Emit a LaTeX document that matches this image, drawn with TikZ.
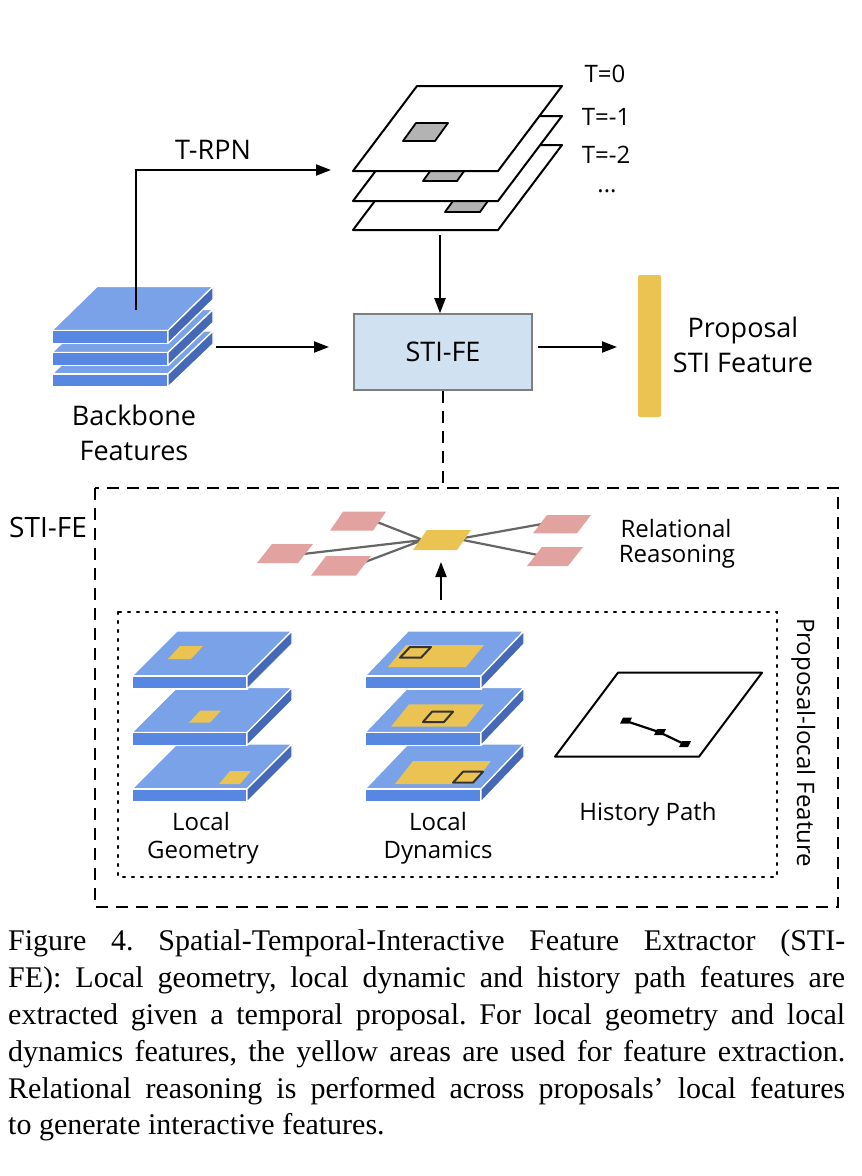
\documentclass[tikz,border=0pt]{standalone}
\usepackage{fontspec}
\setmainfont{Liberation Serif}
\newfontfamily\diagfont{Open Sans}
\usetikzlibrary{arrows.meta}
\definecolor{topc}{HTML}{7AA2E8}
\definecolor{frontc}{HTML}{5787E0}
\definecolor{sidec}{HTML}{4569B6}
\definecolor{ylw}{HTML}{EAC353}
\definecolor{pinkc}{HTML}{E2A2A0}
\definecolor{boxfill}{HTML}{D0E1F2}
\definecolor{boxdraw}{HTML}{7F7F7F}
\definecolor{grayp}{HTML}{B3B3B3}
\definecolor{linkc}{HTML}{666666}
\newcommand\pgram[6][]{\path[#1] (#2,#3) -- ++(#4,0) -- ++(#5,-#6) -- ++(-#4,0) -- cycle;}
\newcommand\slab[6]{%
  \path[draw=white,line width=1.3pt,fill=topc,line join=round] (#1,#2) -- ++(#3,0) -- ++(#5,-#6) -- ++(-#3,0) -- cycle;
  \path[draw=white,line width=1.3pt,fill=frontc] (#1,#2) rectangle ++(#3,#4);
  \path[draw=white,line width=1.3pt,fill=sidec,line join=round] (#1+#3,#2) -- ++(#5,-#6) -- ++(0,#4) -- ++(-#5,#6) -- cycle;
}
\begin{document}
\begin{tikzpicture}[x=1pt,y=-1pt,
  arr/.style={line width=2pt,-{Triangle[length=15pt,width=11pt]}},
  lbl/.style={font=\diagfont\fontsize{27}{30}\selectfont,inner sep=0pt},
  slbl/.style={font=\diagfont\fontsize{24}{28}\selectfont,inner sep=0pt},
  captxt/.style={font=\frenchspacing\fontsize{30}{36}\selectfont,inner sep=0pt,anchor=base west},
  layer/.style={draw=black,fill=white,line width=2pt,line join=round},
  graypatch/.style={draw=black,fill=grayp,line width=1.8pt,line join=round},
  ypatch/.style={fill=ylw},
  opatch/.style={draw=black!80,line width=2pt,line join=round},
  pinkp/.style={fill=pinkc},
  dashbox/.style={line width=2.4pt,dash pattern=on 12pt off 8pt},
  dotbox/.style={line width=2.2pt,dash pattern=on 2pt off 7pt,line cap=round},
  stibox/.style={draw=boxdraw,fill=boxfill,line width=1.6pt,minimum width=178pt,minimum height=76pt,inner sep=0pt,font=\diagfont\fontsize{27}{30}\selectfont}
]
\fill[white] (0,0) rectangle (862,1176);
\path[use as bounding box] (0,0) rectangle (862,1176);

% ---------- top stack (T-RPN proposals)
\pgram[layer]{353}{230}{145}{64}{85}
\pgram[graypatch]{445}{212}{35}{13}{18}
\pgram[layer]{353}{201}{145}{64}{85}
\pgram[graypatch]{423}{181}{34}{13}{18}
\pgram[layer]{353}{171}{145}{64}{85}
\pgram[graypatch]{403}{141}{32}{13}{18}
\node[slbl,anchor=base] (t0) at (605,82) {T=0};
\node[slbl,anchor=base] (t1) at (606,125) {T=-1};
\node[slbl,anchor=base] (t2) at (606,163) {T=-2};
\node[slbl,anchor=base] (tdots) at (607,192) {...};

% ---------- backbone stack
\slab{52}{374}{116}{13}{45}{43}
\slab{52}{352.5}{116}{13}{45}{43}
\slab{52}{330.5}{116}{13}{45}{44}
\node[lbl,anchor=base] (bb1) at (134,425) {Backbone};
\node[lbl,anchor=base] (bb2) at (134,460) {Features};

% ---------- STI-FE box and bar
\node[stibox] (sti) at (443,352) {STI-FE};
\node[fill=ylw,rounded corners=2pt,minimum width=23pt,minimum height=142pt,inner sep=0pt] (bar) at (649.5,346) {};
\node[lbl,anchor=base] (prop1) at (743,337) {Proposal};
\node[lbl,anchor=base] (prop2) at (743,372) {STI Feature};

% ---------- connectors
\coordinate (bbTop) at (136,310);
\coordinate (trpnEnd) at (331,170);
\draw[arr] (bbTop) |- (trpnEnd);
\node[lbl,anchor=base] (trpn) at (213,159) {T-RPN};
\coordinate (stk) at (440,235);
\draw[arr] (stk) -- (stk |- sti.north);
\coordinate (bbR) at (216,347);
\coordinate (stiIn) at (329,347);
\draw[arr] (bbR) -- (stiIn);
\coordinate (stiOut) at (538,347);
\coordinate (barIn) at (617,347);
\draw[arr] (stiOut) -- (barIn);

% ---------- outer dashed box
\draw[dashbox] (95,488) rectangle (838,907);
\coordinate (outerTop) at (443,488);
\draw[dashbox] (sti.south) -- (outerTop);
\node[font=\diagfont\fontsize{28}{30}\selectfont,inner sep=0pt,anchor=base] (stilbl) at (48,537) {STI-FE};

% ---------- relational reasoning
\coordinate (hubL) at (423,540);
\coordinate (hubR) at (458,539);
\coordinate (p1) at (377,522);
\coordinate (p2) at (303,554);
\coordinate (p3) at (357,565);
\coordinate (p4) at (542,524);
\coordinate (p5) at (538,555);
\draw[linkc,line width=2.2pt] (hubL) -- (p1) (hubL) -- (p2) (hubL) -- (p3) (hubR) -- (p4) (hubR) -- (p5);
\pgram[pinkp]{330}{530.7}{43}{13}{19}
\pgram[pinkp]{257}{563}{41}{15}{19}
\pgram[pinkp]{311}{575.7}{45}{15}{19.7}
\pgram[pinkp]{533}{533.3}{44}{14}{18.3}
\pgram[pinkp]{527}{566}{41}{15}{19}
\pgram[ypatch]{413}{550}{44}{14}{20}
\node[slbl,anchor=base] (rel1) at (676,537) {Relational};
\node[slbl,anchor=base] (rel2) at (677,562) {Reasoning};
\coordinate (upS) at (441,600);
\coordinate (upE) at (441,562);
\draw[arr] (upS) -- (upE);

% ---------- inner dotted box
\draw[dotbox] (118,612) rectangle (777,877);
\node[slbl,rotate=-90,anchor=base west] (plf) at (797,618) {Proposal-local Feature};

% ---------- local geometry
\slab{132}{789}{115}{13}{45}{45}
\pgram[ypatch]{219}{784}{21}{11}{13}
\slab{132}{732.5}{115}{13}{45}{45}
\pgram[ypatch]{189}{722.7}{21}{11}{12}
\slab{132}{676}{115}{13}{45}{45}
\pgram[ypatch]{168}{659}{23}{12}{13}
\node[slbl,anchor=base] (lg1) at (201,830) {Local};
\node[slbl,anchor=base] (lg2) at (203,858) {Geometry};

% ---------- local dynamics
\slab{365}{789}{116}{13}{43}{45}
\pgram[ypatch]{395}{784}{78}{18}{23}
\pgram[opatch]{453}{782.7}{20}{10}{11}
\slab{365}{732.5}{116}{13}{43}{45}
\pgram[ypatch]{391}{726.7}{75}{18}{22.4}
\pgram[opatch]{423}{722}{21}{9}{10.3}
\slab{365}{676}{116}{13}{43}{45}
\pgram[ypatch]{388}{667}{78}{18}{22}
\pgram[opatch]{400}{657.7}{21}{10}{10.7}
\node[slbl,anchor=base] (ld1) at (438,830) {Local};
\node[slbl,anchor=base] (ld2) at (438,858) {Dynamics};

% ---------- history path
\pgram[layer]{555}{756.7}{144}{63}{84}
\coordinate (h1) at (625,720.7);
\coordinate (h2) at (659,732);
\coordinate (h3) at (684,744);
\draw[black,line width=2.2pt] (h1) -- (h2) -- (h3);
\pgram[fill=black]{620}{723.5}{9}{3}{6}
\pgram[fill=black]{654}{735}{9}{3}{6}
\pgram[fill=black]{679}{747}{9}{3}{6}
\node[slbl,anchor=base] (hp) at (648,820) {History Path};

% ---------- caption
\node[captxt] (c1) at (8,950) {\makebox[837pt][s]{Figure 4. Spatial-Temporal-Interactive Feature Extractor (STI-}};
\node[captxt] (c2) at (8,987) {\makebox[837pt][s]{FE): Local geometry, local dynamic and history path features are}};
\node[captxt] (c3) at (8,1024) {\makebox[837pt][s]{extracted given a temporal proposal. For local geometry and local}};
\node[captxt] (c4) at (8,1061) {\makebox[837pt][s]{dynamics features, the yellow areas are used for feature extraction.}};
\node[captxt] (c5) at (8,1098) {\makebox[837pt][s]{Relational reasoning is performed across proposals’ local features}};
\node[captxt] (c6) at (8,1134) {to generate interactive features.};
\end{tikzpicture}
\end{document}
